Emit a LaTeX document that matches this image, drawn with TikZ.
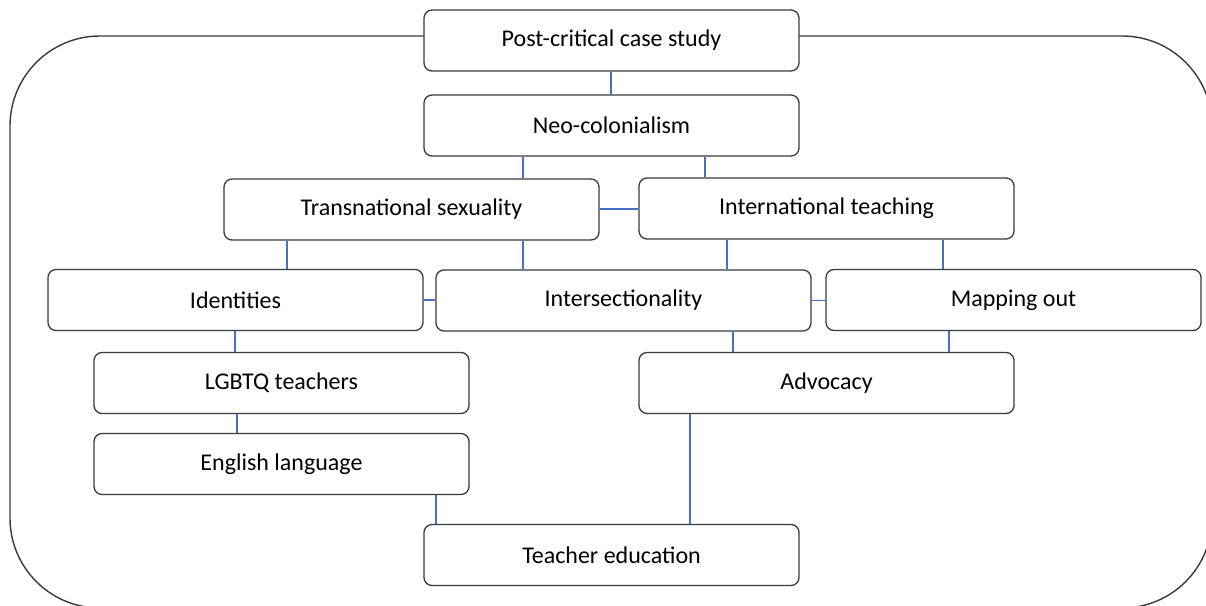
\documentclass[tikz,border=0pt]{standalone}
\usepackage{fontspec}
\setmainfont{Carlito}
\definecolor{clLink}{HTML}{4472C4}
\definecolor{clEdge}{HTML}{3A3A3A}
\tikzset{
  topic/.style={rectangle, rounded corners=8pt, draw=clEdge, line width=1.3pt,
                fill=white, minimum width=375pt, minimum height=61pt,
                inner sep=0pt, font=\fontsize{24}{28}\selectfont},
  link/.style={draw=clLink, line width=1.1pt},
  frame/.style={draw=clEdge, line width=1.4pt, rounded corners=90pt},
}

\begin{document}
\begin{tikzpicture}[x=1pt, y=-1pt]
  \useasboundingbox (0,0) rectangle (1206,605);
  \clip (0,0) rectangle (1206,605);
  \draw[frame] (10,36) rectangle (1212,608);
  % topics
  \node[topic] (pcs) at (611.5,40.5) {Post-critical case study};
  \node[topic] (neo) at (611.5,125.5) {Neo-colonialism};
  \node[topic] (tsx) at (411.5,209.5) {Transnational sexuality};
  \node[topic] (itl) at (826.5,208.5) {International teaching};
  \node[topic] (ide) at (235.5,300) {Identities};
  \node[topic] (isc) at (623.5,300.5) {Intersectionality};
  \node[topic] (map) at (1013.5,300) {Mapping out};
  \node[topic] (lgb) at (281.5,383) {LGBTQ teachers};
  \node[topic] (adv) at (826.5,383) {Advocacy};
  \node[topic] (eng) at (281.5,464) {English language};
  \node[topic] (ted) at (611.5,555) {Teacher education};
  % links
  \draw[link] ([xshift=-0.5pt]pcs.south) -- ([xshift=-0.5pt]neo.north);
  \draw[link] ([xshift=-88.5pt]neo.south) -- ([xshift=111.5pt]tsx.north);
  \draw[link] ([xshift=93.5pt]neo.south) -- ([xshift=-121.5pt]itl.north);
  \draw[link] ([yshift=0.5pt]tsx.east) -- ([yshift=0.5pt]tsx.east -| itl.west);
  \draw[link] ([xshift=-124.5pt]tsx.south) -- ([xshift=51.5pt]ide.north);
  \draw[link] ([xshift=111.5pt]tsx.south) -- ([xshift=-100.5pt]isc.north);
  \draw[link] ([xshift=-99.5pt]itl.south) -- ([xshift=103.5pt]isc.north);
  \draw[link] ([xshift=116.5pt]itl.south) -- ([xshift=-70.5pt]map.north);
  \draw[link] (ide.east) -- (ide.east -| isc.west);
  \draw[link] (isc.east) -- (isc.east -| map.west);
  \draw[link] ([xshift=-0.5pt]ide.south) -- ([xshift=-0.5pt]ide.south |- lgb.north);
  \draw[link] ([xshift=109.5pt]isc.south) -- ([xshift=-93.5pt]adv.north);
  \draw[link] ([xshift=-64.5pt]map.south) -- ([xshift=122.5pt]adv.north);
  \draw[link] ([xshift=-44.5pt]lgb.south) -- ([xshift=-44.5pt]eng.north);
  \draw[link] ([xshift=154.5pt]eng.south) -- ([xshift=-175.5pt]ted.north);
  \draw[link] ([xshift=-136.5pt]adv.south) -- ([xshift=78.5pt]ted.north);
\end{tikzpicture}
\end{document}
